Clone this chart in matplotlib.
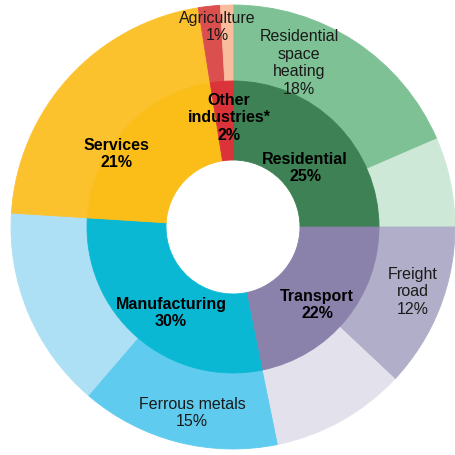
import matplotlib
matplotlib.use("Agg")
import matplotlib.pyplot as plt

plt.rcParams['font.family'] = ['Liberation Sans', 'DejaVu Sans']

# inner ring: sectors (clockwise from 12 o'clock)
sectors = ["Residential", "Transport", "Manufacturing", "Services", "Other\nindustries*"]
sector_share = [25.0, 21.8, 29.2, 21.5, 2.5]
sector_pct = ["25%", "22%", "30%", "21%", "2%"]
sector_colors = ["#3d8154", "#8a82ab", "#0bb8d4", "#fbbd17", "#da3339"]

# outer ring: sub-sectors (clockwise from 12 o'clock)
subsectors = ["Residential\nspace\nheating", "", "Freight\nroad", "",
              "Ferrous metals", "", "", "Agriculture", ""]
subsector_share = [18.5, 6.5, 12.0, 9.8, 14.5, 14.7, 21.5, 1.6, 0.9]
subsector_pct = ["18%", "", "12%", "", "15%", "", "", "1%", ""]
subsector_colors = ["#7dc194", "#cde8d6", "#b1aec9", "#e3e2ec",
                    "#5fcbef", "#ade0f4", "#fcc22e", "#db4f4f", "#f9bd9e"]

fig = plt.figure(figsize=(4.55, 4.56), dpi=100)
ax = fig.add_axes([0, 0, 1, 1])
ax.axis('off')

cx, cy = 233, 228
r_hole, r_in, r_out = 67, 146, 222

outer, _ = ax.pie(subsector_share, colors=subsector_colors, radius=r_out, center=(cx, cy),
                  startangle=90, counterclock=False,
                  wedgeprops=dict(width=r_out - r_in, linewidth=0.6))
inner, _ = ax.pie(sector_share, colors=sector_colors, radius=r_in, center=(cx, cy),
                  startangle=90, counterclock=False,
                  wedgeprops=dict(width=r_in - r_hole, linewidth=0.6))
# edges in the wedge's own colour, so no seams show between wedges
for w in list(outer) + list(inner):
    w.set_edgecolor(w.get_facecolor())

ax.set_xlim(0, 455)
ax.set_ylim(0, 456)

# label positions in pixels from the top-left corner
inner_pos = [(305, 168), (317, 305), (171, 313), (116, 154), (229, 118)]
outer_pos = [(299, 63), None, (413, 292), None, (192, 413), None, None, (217, 27), None]

for name, pct, pos in zip(sectors, sector_pct, inner_pos):
    ax.text(pos[0], 456 - pos[1], name + "\n" + pct, ha='center', va='center',
            fontsize=11.5, fontweight='bold', color='black', linespacing=1.2)

for name, pct, pos in zip(subsectors, subsector_pct, outer_pos):
    if pos is None:
        continue
    ax.text(pos[0], 456 - pos[1], name + "\n" + pct, ha='center', va='center',
            fontsize=11.5, color='#1a1a1a', linespacing=1.2)

fig.savefig("out.png", dpi=100)
